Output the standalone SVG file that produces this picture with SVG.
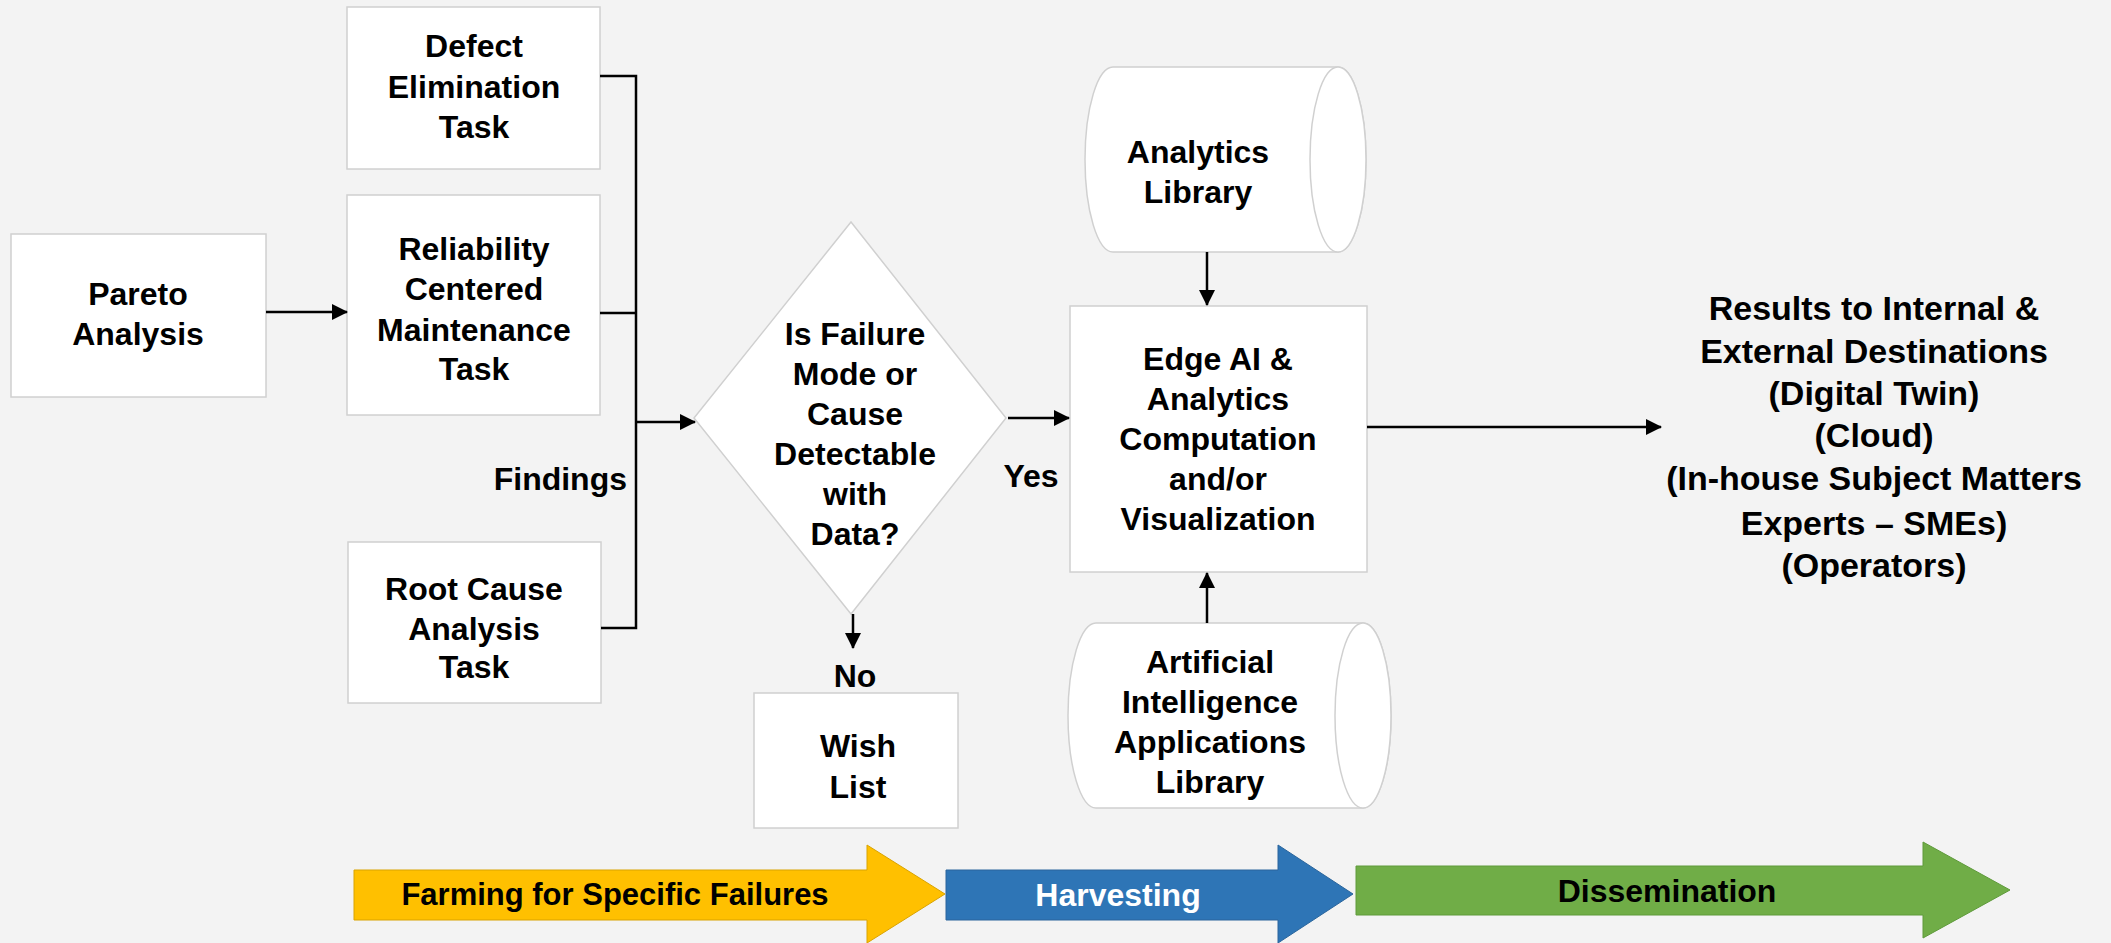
<svg xmlns="http://www.w3.org/2000/svg" width="2111" height="943" viewBox="0 0 2111 943">
<style>
.box{fill:#ffffff;stroke:#d0d0d0;stroke-width:1.5}
.t{font-family:"Liberation Sans",Arial,sans-serif;font-weight:bold;font-size:32px;fill:#000;text-anchor:middle}
.big{font-size:34px}
.line{fill:none;stroke:#000;stroke-width:2.5}
.arr{fill:none;stroke:#000;stroke-width:2.5;marker-end:url(#ah)}
</style>
<defs>
<marker id="ah" markerUnits="userSpaceOnUse" markerWidth="16" markerHeight="16" refX="15" refY="8" orient="auto">
<path d="M0,0 L16,8 L0,16 Z" fill="#000"/>
</marker>
</defs>
<rect x="0" y="0" width="2111" height="943" fill="#f3f3f3"/>

<g id="pareto">
<rect class="box" x="11" y="234" width="255" height="163"/>
<text class="t" x="138" y="305">Pareto</text>
<text class="t" x="138" y="345">Analysis</text>
</g>

<g id="defect">
<rect class="box" x="347" y="7" width="253" height="162"/>
<text class="t" x="474" y="57">Defect</text>
<text class="t" x="474" y="98">Elimination</text>
<text class="t" x="474" y="138">Task</text>
</g>

<g id="rcm">
<rect class="box" x="347" y="195" width="253" height="220"/>
<text class="t" x="474" y="260">Reliability</text>
<text class="t" x="474" y="300">Centered</text>
<text class="t" x="474" y="341">Maintenance</text>
<text class="t" x="474" y="380">Task</text>
</g>

<g id="rca">
<rect class="box" x="348" y="542" width="253" height="161"/>
<text class="t" x="474" y="600">Root Cause</text>
<text class="t" x="474" y="640">Analysis</text>
<text class="t" x="474" y="678">Task</text>
</g>

<g id="decision">
<polygon class="box" points="851,222 1006,418 851,614 694,418"/>
<text class="t" x="855" y="345">Is Failure</text>
<text class="t" x="855" y="385">Mode or</text>
<text class="t" x="855" y="425">Cause</text>
<text class="t" x="855" y="465">Detectable</text>
<text class="t" x="855" y="505">with</text>
<text class="t" x="855" y="545">Data?</text>
</g>

<g id="wishlist">
<rect class="box" x="754" y="693" width="204" height="135"/>
<text class="t" x="858" y="757">Wish</text>
<text class="t" x="858" y="798">List</text>
</g>

<g id="analytics-library">
<path class="box" d="M1113,67 L1338,67 A28,92.5 0 0 1 1338,252 L1113,252 A28,92.5 0 0 1 1113,67 Z"/>
<ellipse class="box" cx="1338" cy="159.5" rx="28" ry="92.5"/>
<text class="t" x="1198" y="163">Analytics</text>
<text class="t" x="1198" y="203">Library</text>
</g>

<g id="edge-ai">
<rect class="box" x="1070" y="306" width="297" height="266"/>
<text class="t" x="1218" y="370">Edge AI &amp;</text>
<text class="t" x="1218" y="410">Analytics</text>
<text class="t" x="1218" y="450">Computation</text>
<text class="t" x="1218" y="490">and/or</text>
<text class="t" x="1218" y="530">Visualization</text>
</g>

<g id="ai-library">
<path class="box" d="M1096,623 L1363,623 A28,92.5 0 0 1 1363,808 L1096,808 A28,92.5 0 0 1 1096,623 Z"/>
<ellipse class="box" cx="1363" cy="715.5" rx="28" ry="92.5"/>
<text class="t" x="1210" y="673">Artificial</text>
<text class="t" x="1210" y="713">Intelligence</text>
<text class="t" x="1210" y="753">Applications</text>
<text class="t" x="1210" y="793">Library</text>
</g>

<g id="results">
<text class="t big" x="1874" y="320">Results to Internal &amp;</text>
<text class="t big" x="1874" y="363">External Destinations</text>
<text class="t big" x="1874" y="405">(Digital Twin)</text>
<text class="t big" x="1874" y="447">(Cloud)</text>
<text class="t big" x="1874" y="490">(In-house Subject Matters</text>
<text class="t big" x="1874" y="535">Experts – SMEs)</text>
<text class="t big" x="1874" y="577">(Operators)</text>
</g>

<g id="connectors">
<line class="arr" x1="266" y1="312" x2="347" y2="312"/>
<polyline class="line" points="600,76 636,76 636,628 601,628"/>
<line class="line" x1="600" y1="313" x2="636" y2="313"/>
<line class="arr" x1="636" y1="422" x2="695" y2="422"/>
<text class="t" x="627" y="490" text-anchor="end" style="text-anchor:end">Findings</text>
<line class="arr" x1="1008" y1="418" x2="1069" y2="418"/>
<text class="t" x="1031" y="487">Yes</text>
<line class="arr" x1="853" y1="614" x2="853" y2="648"/>
<text class="t" x="855" y="687">No</text>
<line class="arr" x1="1207" y1="252" x2="1207" y2="305"/>
<line class="arr" x1="1207" y1="623" x2="1207" y2="573"/>
<line class="arr" x1="1367" y1="427" x2="1661" y2="427"/>
</g>

<g id="phase-farming">
<polygon points="354,870 867,870 867,845 945,894 867,943 867,920 354,920" fill="#ffc000" stroke="#d9a300" stroke-width="1"/>
<text class="t" x="615" y="905" style="font-size:31px">Farming for Specific Failures</text>
</g>
<g id="phase-harvesting">
<polygon points="946,870 1278,870 1278,845 1353,894 1278,943 1278,920 946,920" fill="#2e75b6" stroke="#2a659c" stroke-width="1"/>
<text class="t" x="1118" y="906" style="fill:#ffffff">Harvesting</text>
</g>
<g id="phase-dissemination">
<polygon points="1356,866 1923,866 1923,842 2010,890 1923,938 1923,915 1356,915" fill="#70ad47" stroke="#5e9a3a" stroke-width="1"/>
<text class="t" x="1667" y="902">Dissemination</text>
</g>
</svg>
